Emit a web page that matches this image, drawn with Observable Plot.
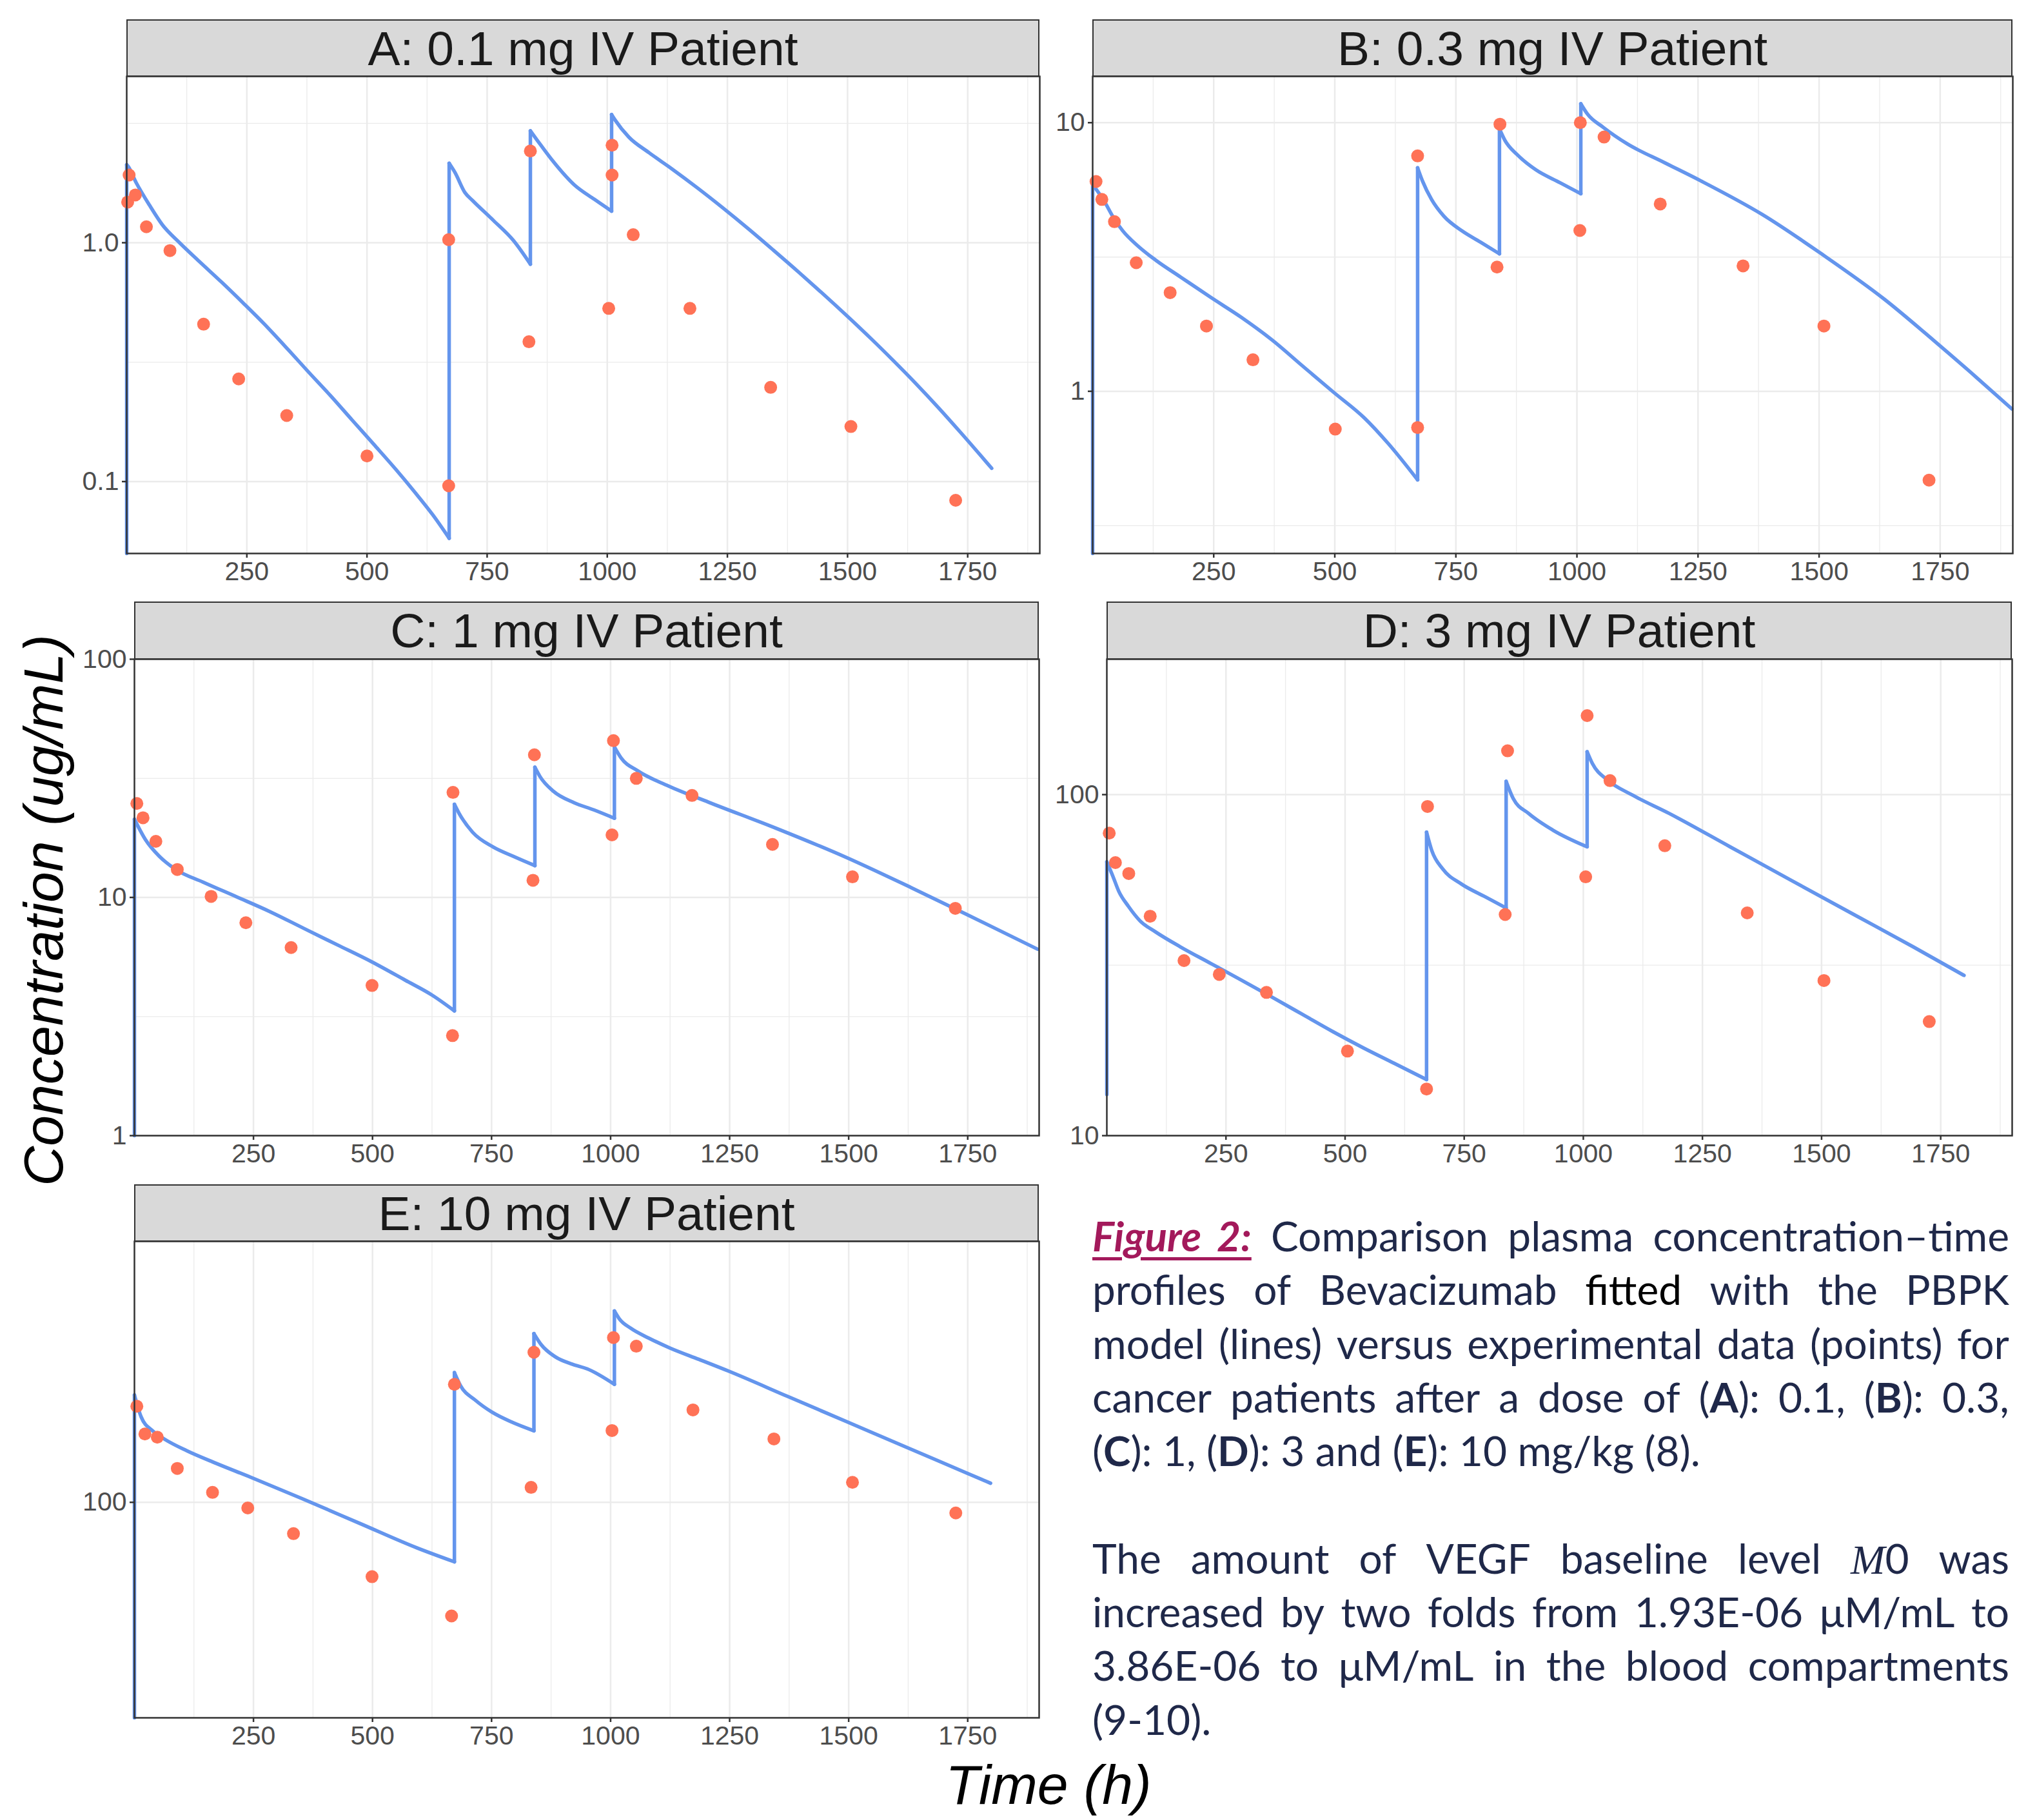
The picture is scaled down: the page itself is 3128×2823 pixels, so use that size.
<!DOCTYPE html>
<html><head><meta charset="utf-8">
<script src="https://cdn.jsdelivr.net/npm/d3@7"></script>
<script src="https://cdn.jsdelivr.net/npm/@observablehq/plot@0.6"></script>
<style>
html,body{margin:0;padding:0;background:#fff;}
#page{position:relative;width:3128px;height:2823px;overflow:hidden;background:#fff;}
.strip{position:absolute;box-sizing:border-box;background:#D9D9D9;border:2.5px solid #333;display:flex;align-items:center;justify-content:center;font-family:"Liberation Sans",Arial,sans-serif;font-size:75px;color:#1A1A1A;white-space:nowrap;}
.panel{position:absolute;}
.panel text{font-family:"Liberation Sans",Arial,sans-serif;}
.axtitle{position:absolute;font-family:"Liberation Sans",Arial,sans-serif;font-style:italic;font-size:86px;line-height:86px;height:86px;color:#000;white-space:nowrap;}
.cap{position:absolute;left:1694px;width:1422px;font-family:Lato,"Open Sans",sans-serif;font-size:64px;color:#1F2849;line-height:83.3px;}
.jl{display:flex;justify-content:space-between;white-space:nowrap;height:83.3px;}
.ll{white-space:nowrap;height:83.3px;}
.fig{color:#A3195B;font-weight:bold;font-style:italic;text-decoration:underline;text-decoration-thickness:5px;text-underline-offset:9px;word-spacing:10px;}
.m{font-family:"Liberation Serif",serif;font-style:italic;}
</style></head>
<body><div id="page"></div>
<script>
// ---------- data ----------
const titles = ["A: 0.1 mg IV Patient", "B: 0.3 mg IV Patient", "C: 1 mg IV Patient", "D: 3 mg IV Patient", "E: 10 mg IV Patient"];
const xTicks = [250, 500, 750, 1000, 1250, 1500, 1750];
const xMinorTicks = [125, 375, 625, 875, 1125, 1375, 1625, 1875];

// model lines [time h, concentration ug/mL]
const lineA = [[0,0.05],[0,2.12],[2,2.1],[20,1.78],[47,1.44],[74,1.19],[110,1.0],[151,0.835],[197,0.685],[242,0.56],[287,0.455],[337,0.355],[378,0.288],[424,0.229],[469,0.181],[515,0.1426],[560,0.1125],[605,0.0875],[637,0.0725],[671,0.0579],[671,2.15],[683,1.97],[704,1.62],[720,1.5],[763,1.24],[805,1.02],[840,0.813],[840,2.94],[854,2.69],[889,2.17],[931,1.75],[973,1.52],[1009,1.356],[1009,3.44],[1016,3.27],[1045,2.767],[1087,2.382],[1134,2.041],[1187,1.70],[1240,1.402],[1294,1.142],[1347,0.926],[1400,0.748],[1447,0.6156],[1500,0.4913],[1548,0.3982],[1595,0.3214],[1642,0.2575],[1690,0.203],[1737,0.1591],[1800,0.1136]];
const lineB = [[0,0.249],[0,5.89],[24,5.1],[43,4.43],[62,3.96],[93,3.48],[131,3.07],[182,2.66],[245,2.23],[308,1.88],[371,1.55],[434,1.24],[498,0.99],[561,0.796],[611,0.637],[671,0.468],[671,6.79],[681,6.07],[700,5.17],[725,4.49],[763,3.95],[801,3.59],[840,3.25],[840,9.48],[851,8.61],[877,7.59],[915,6.68],[965,5.98],[1008,5.44],[1008,11.76],[1022,10.75],[1054,9.62],[1104,8.34],[1180,7.11],[1256,6.07],[1382,4.56],[1508,3.22],[1635,2.2],[1736,1.55],[1824,1.13],[1898,0.86]];
const lineC = [[0,1],[0,21.3],[23,17.5],[52,14.9],[87,13.1],[144,11.6],[215,10.05],[285,8.71],[356,7.41],[427,6.31],[498,5.37],[569,4.49],[625,3.89],[672,3.34],[672,24.6],[682,22.5],[710,18.8],[753,16.3],[795,14.9],[841,13.6],[841,35.2],[852,32.1],[880,27.9],[923,25.0],[965,23.3],[1008,21.5],[1008,42.8],[1022,38.5],[1057,34.0],[1121,29.4],[1206,25.1],[1348,19.5],[1489,14.9],[1631,11.0],[1744,8.56],[1897,6.06]];
const lineD = [[0,13.2],[0,63.5],[13,57.5],[25,52.1],[45,47.1],[70,42.6],[102,39.6],[154,35.8],[218,32.0],[282,28.6],[346,25.5],[410,22.7],[474,20.2],[538,18.1],[603,16.3],[671,14.6],[671,77.6],[682,68.5],[705,60.5],[744,54.7],[795,50.1],[838,46.5],[838,109.4],[853,97.3],[885,88.1],[936,78.7],[1008,70.3],[1008,133.6],[1019,123.4],[1051,110.3],[1103,99.7],[1180,88.1],[1308,70.3],[1436,56.1],[1564,44.8],[1692,35.8],[1799,29.5]];
const lineE = [[0,22.1],[0,212],[14,182],[38,165],[62,156],[110,143.5],[171,131.5],[243,119.4],[352,102.6],[473,86.3],[594,72.6],[672,65.9],[672,248],[685,226],[715,205],[751,188],[794,175],[839,165],[839,326],[854,302],[884,277],[920,263],[951,254.6],[1008,228.5],[1008,382],[1018,362],[1043,338],[1080,316],[1124,295],[1186,272],[1248,250.6],[1372,209.9],[1497,175.6],[1621,147.1],[1746,123.1],[1798,114.3]];

// observed data [time h, concentration ug/mL]
const ptsA = [[5,1.92],[2,1.48],[18,1.585],[41,1.166],[90,0.927],[160,0.456],[233,0.269],[333,0.189],[500,0.128],[670,0.096],[670,1.03],[837,0.385],[840,2.42],[1003,0.531],[1010,2.56],[1010,1.92],[1054,1.08],[1172,0.531],[1340,0.248],[1507,0.17],[1725,0.0835]];
const ptsB = [[7,6.04],[19,5.18],[45,4.28],[90,3.01],[160,2.33],[235,1.75],[331,1.31],[501,0.723],[671,0.733],[671,7.52],[835,2.9],[841,9.87],[1006,3.97],[1007,10.0],[1056,8.84],[1172,4.98],[1343,2.93],[1510,1.75],[1727,0.467]];
const ptsC = [[5,24.8],[18,21.6],[45,17.2],[90,13.1],[161,10.1],[234,7.83],[329,6.16],[499,4.27],[668,2.63],[669,27.6],[837,11.8],[840,39.7],[1003,18.3],[1006,45.5],[1054,31.6],[1171,26.8],[1340,16.7],[1508,12.2],[1724,9.0]];
const ptsD = [[5,77.1],[18,63.2],[46,58.7],[91,44.0],[162,32.6],[236,29.7],[335,26.3],[505,17.7],[671,13.7],[673,92.3],[836,44.5],[841,134.4],[1005,57.4],[1008,170.5],[1056,109.9],[1171,70.8],[1344,45.0],[1505,28.5],[1726,21.6]];
const ptsE = [[5,196],[22,161.4],[48,157.8],[90,126.8],[164,107.2],[238,96.1],[334,80.3],[499,59.4],[666,45.1],[672,228.5],[833,111],[839,286],[1003,165.3],[1006,317],[1054,298.5],[1173,191],[1343,155.9],[1508,115],[1725,92.8]];

// y axis ticks and labels per panel
const yTicksA = [0.1, 1], yLabelsA = ["0.1", "1.0"];
const yTicksB = [1, 10], yLabelsB = ["1", "10"];
const yTicksC = [1, 10, 100], yLabelsC = ["1", "10", "100"];
const yTicksD = [10, 100], yLabelsD = ["10", "100"];
const yTicksE = [100], yLabelsE = ["100"];
const yMinorA = [0.316, 3.16], yMinorB = [0.316, 3.16], yMinorC = [3.16, 31.6], yMinorD = [31.6], yMinorE = [];

// ---------- layout ----------
const page = document.getElementById("page");
const panels = [
  {title: titles[0], line: lineA, pts: ptsA, domain: [0.05, 4.97], ticks: yTicksA, labels: yLabelsA, minor: yMinorA, L: 196, T: 118, W: 1416, H: 740, ST: 30},
  {title: titles[1], line: lineB, pts: ptsB, domain: [0.249, 14.87], ticks: yTicksB, labels: yLabelsB, minor: yMinorB, L: 1694, T: 118, W: 1427, H: 740, ST: 30},
  {title: titles[2], line: lineC, pts: ptsC, domain: [1, 100], ticks: yTicksC, labels: yLabelsC, minor: yMinorC, L: 208, T: 1022, W: 1403, H: 739, ST: 933},
  {title: titles[3], line: lineD, pts: ptsD, domain: [10, 249.5], ticks: yTicksD, labels: yLabelsD, minor: yMinorD, L: 1716, T: 1022, W: 1404, H: 739, ST: 933},
  {title: titles[4], line: lineE, pts: ptsE, domain: [22.1, 622], ticks: yTicksE, labels: yLabelsE, minor: yMinorE, L: 208, T: 1925, W: 1403, H: 739, ST: 1837}
];

// split a model line into smooth decay runs and vertical dose jumps
function splitLine(line) {
  const smooth = [], jumps = [];
  let seg = 0, cur = [line[0]];
  const flush = () => { if (cur.length > 1) { for (const d of cur) smooth.push({t: d[0], c: d[1], s: seg}); seg++; } };
  for (let i = 1; i < line.length; i++) {
    const prev = line[i - 1], d = line[i];
    if (d[0] === prev[0]) {
      flush();
      jumps.push({t: prev[0], c: prev[1], s: i}, {t: d[0], c: d[1], s: i});
      cur = [d];
    } else cur.push(d);
  }
  flush();
  return {smooth, jumps};
}

const mL = 140, mR = 6, mT = 4, mB = 70;
const gridColor = "#EBEBEB";
const lineColor = "#6495ED";
for (const p of panels) {
  const fmt = d => p.labels[p.ticks.indexOf(d)] ?? String(d);
  const {smooth, jumps} = splitLine(p.line);
  const chart = Plot.plot({
    width: p.W + mL + mR, height: p.H + mT + mB,
    marginLeft: mL, marginRight: mR, marginTop: mT, marginBottom: mB,
    style: {fontFamily: "'Liberation Sans', Arial, sans-serif", fontSize: "41px", background: "transparent", overflow: "visible"},
    x: {domain: [0, 1900]},
    y: {type: "log", domain: p.domain},
    marks: [
      Plot.gridX(xMinorTicks, {stroke: gridColor, strokeOpacity: 1, strokeWidth: 1.3}),
      Plot.gridY(p.minor, {stroke: gridColor, strokeOpacity: 1, strokeWidth: 1.3}),
      Plot.gridX(xTicks, {stroke: gridColor, strokeOpacity: 1, strokeWidth: 2.5}),
      Plot.gridY(p.ticks, {stroke: gridColor, strokeOpacity: 1, strokeWidth: 2.5}),
      Plot.line(jumps, {x: "t", y: "c", z: "s", stroke: lineColor, strokeWidth: 5.5, strokeLinecap: "round"}),
      Plot.line(smooth, {x: "t", y: "c", z: "s", curve: "monotone-x", stroke: lineColor, strokeWidth: 5.5, strokeLinejoin: "round", strokeLinecap: "round"}),
      Plot.dot(p.pts, {x: d => d[0], y: d => d[1], r: 10, fill: "#FF7256", stroke: null}),
      Plot.frame({stroke: "#333333", strokeWidth: 2.5}),
      Plot.axisX(xTicks, {tickSize: 7, tickPadding: 5, stroke: "#333333", fill: "#4D4D4D", strokeWidth: 2.5, label: null, tickFormat: d => String(d)}),
      Plot.axisY(p.ticks, {tickSize: 7, tickPadding: 5, stroke: "#333333", fill: "#4D4D4D", strokeWidth: 2.5, label: null, tickFormat: fmt})
    ]
  });
  chart.classList.add("panel");
  chart.style.left = (p.L - mL) + "px";
  chart.style.top = (p.T - mT) + "px";
  page.appendChild(chart);

  const strip = document.createElement("div");
  strip.className = "strip";
  strip.style.left = p.L + "px";
  strip.style.top = p.ST + "px";
  strip.style.width = p.W + "px";
  strip.style.height = (p.T - p.ST + 1) + "px";
  strip.textContent = p.title;
  page.appendChild(strip);
}

// axis titles
const yTitle = document.createElement("div");
yTitle.className = "axtitle";
yTitle.textContent = "Concentration (ug/mL)";
yTitle.style.left = "67px"; yTitle.style.top = "1412px";
yTitle.style.transform = "translate(-50%,-50%) rotate(-90deg)";
page.appendChild(yTitle);

const xTitle = document.createElement("div");
xTitle.className = "axtitle";
xTitle.textContent = "Time (h)";
xTitle.style.left = "1626px"; xTitle.style.top = "2725px";
xTitle.style.transform = "translateX(-50%)";
page.appendChild(xTitle);

// caption
const capLines = [
  {j: true, html: ['<span class="fig">Figure 2:</span>', 'Comparison', 'plasma', 'concentration–time']},
  {j: true, html: ['profiles', 'of', 'Bevacizumab', '<span style="color:#000">fitted</span>', 'with', 'the', 'PBPK']},
  {j: true, html: ['model', '(lines)', 'versus', 'experimental', 'data', '(points)', 'for']},
  {j: true, html: ['cancer', 'patients', 'after', 'a', 'dose', 'of', '(<b>A</b>):', '0.1,', '(<b>B</b>):', '0.3,']},
  {j: false, html: ['(<b>C</b>): 1, (<b>D</b>): 3 and (<b>E</b>): 10 mg/kg (8).']},
  {j: false, html: ['&nbsp;']},
  {j: true, html: ['The', 'amount', 'of', 'VEGF', 'baseline', 'level', '<span class="m">M</span>0', 'was']},
  {j: true, html: ['increased', 'by', 'two', 'folds', 'from', '1.93E-06', 'μM/mL', 'to']},
  {j: true, html: ['3.86E-06', 'to', 'μM/mL', 'in', 'the', 'blood', 'compartments']},
  {j: false, html: ['(9-10).']}
];
const cap = document.createElement("div");
cap.className = "cap";
cap.style.top = "1875px";
for (const ln of capLines) {
  const d = document.createElement("div");
  d.className = ln.j ? "jl" : "ll";
  d.innerHTML = ln.j ? ln.html.map(w => "<span>" + w + "</span>").join("") : ln.html.join(" ");
  cap.appendChild(d);
}
page.appendChild(cap);
</script>
</body></html>
